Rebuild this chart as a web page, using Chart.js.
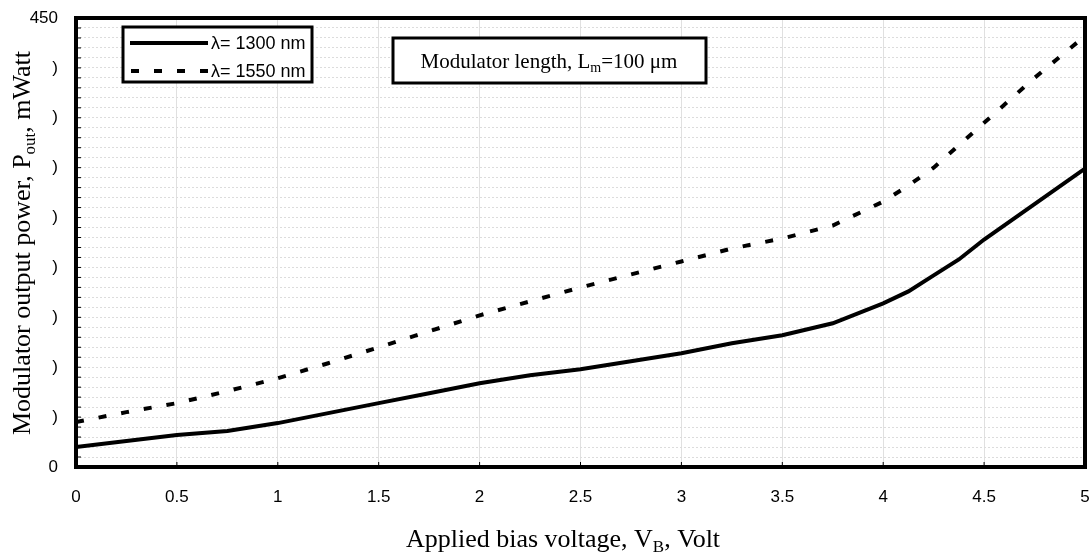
<!DOCTYPE html>
<html>
<head>
<meta charset="utf-8">
<script src="https://cdn.jsdelivr.net/npm/chart.js@4"></script>
<style>
  html, body { margin: 0; padding: 0; background: #fff; }
  #wrap { width: 1092px; height: 557px; position: relative; }
</style>
</head>
<body>
<div id="wrap"><canvas id="c"></canvas></div>
<script>
// Modulator output power vs applied bias voltage, two wavelengths.
const xSolid = [0, 0.25, 0.5, 0.75, 1, 1.25, 1.5, 1.75, 2, 2.25, 2.5, 2.75, 3, 3.25, 3.5, 3.75, 4, 4.125, 4.25, 4.375, 4.5, 5];
const p1300  = [20, 26, 32, 36, 44, 54, 64, 74, 84, 92, 98, 106, 114, 124, 132, 144, 164, 176, 192, 208, 228, 299];
const xDash  = [0, 0.25, 0.5, 0.75, 1, 1.25, 1.5, 1.75, 2, 2.25, 2.5, 2.75, 3, 3.25, 3.5, 3.75, 4, 4.125, 4.25, 4.5, 4.75, 5];
const p1550  = [45, 55, 64, 76, 89, 104, 120, 136, 152, 166, 180, 193, 206, 219, 229, 242, 266, 282, 300, 345, 390, 432];
const seriesNames = ['λ= 1300 nm', 'λ= 1550 nm'];
const xTitle = ['Applied bias voltage, V', 'B', ', Volt'];
const yTitle = ['Modulator output power, P', 'out', ', mWatt'];
const note = ['Modulator length, L', 'm', '=100 μm'];

const SANS = '"Liberation Sans", Arial, sans-serif';
const SERIF = '"Liberation Serif", "Times New Roman", serif';
const DASH = [8, 15];

function pts(xs, ys) { return xs.map((x, i) => ({ x, y: ys[i] })); }

// text with one subscript part, returns width
function subText(ctx, parts, x, y, size, measureOnly) {
  const big = size + 'px ' + SERIF, small = Math.round(size * 0.66) + 'px ' + SERIF;
  ctx.font = big; const w0 = ctx.measureText(parts[0]).width;
  ctx.font = small; const w1 = ctx.measureText(parts[1]).width;
  ctx.font = big; const w2 = ctx.measureText(parts[2]).width;
  if (measureOnly) return w0 + w1 + w2;
  ctx.textBaseline = 'alphabetic'; ctx.textAlign = 'left';
  ctx.font = big; ctx.fillText(parts[0], x, y);
  ctx.font = small; ctx.fillText(parts[1], x + w0, y + size * 0.2);
  ctx.font = big; ctx.fillText(parts[2], x + w0 + w1, y);
  return w0 + w1 + w2;
}

const decor = {
  id: 'decor',
  afterDraw(chart) {
    const { ctx, chartArea: a, scales } = chart;
    ctx.save();
    ctx.fillStyle = '#000'; ctx.strokeStyle = '#000';
    // inward tick marks
    ctx.lineWidth = 1;
    for (let v = 10; v < 450; v += 10) {
      const y = scales.y.getPixelForValue(v);
      ctx.beginPath(); ctx.moveTo(a.left, y); ctx.lineTo(a.left + 5, y); ctx.stroke();
    }
    for (let v = 0.5; v < 5; v += 0.5) {
      const x = scales.x.getPixelForValue(v);
      ctx.beginPath(); ctx.moveTo(x, a.bottom); ctx.lineTo(x, a.bottom - 5); ctx.stroke();
    }
    // plot frame
    ctx.lineWidth = 4;
    ctx.strokeRect(a.left, a.top, a.right - a.left, a.bottom - a.top);

    // legend box
    ctx.lineWidth = 3;
    ctx.fillStyle = '#fff';
    ctx.fillRect(123, 27, 189, 55);
    ctx.strokeRect(123, 27, 189, 55);
    ctx.fillStyle = '#000';
    ctx.lineWidth = 4; ctx.lineCap = 'butt';
    ctx.beginPath(); ctx.moveTo(130, 43); ctx.lineTo(208, 43); ctx.stroke();
    ctx.setLineDash(DASH);
    ctx.beginPath(); ctx.moveTo(131, 71); ctx.lineTo(208, 71); ctx.stroke();
    ctx.setLineDash([]);
    ctx.font = '18px ' + SANS; ctx.textBaseline = 'middle'; ctx.textAlign = 'left';
    ctx.fillText(seriesNames[0], 211, 44);
    ctx.fillText(seriesNames[1], 211, 72);

    // annotation box
    ctx.lineWidth = 3;
    ctx.fillStyle = '#fff';
    ctx.fillRect(393, 38, 313, 45);
    ctx.strokeRect(393, 38, 313, 45);
    ctx.fillStyle = '#000';
    const nw = subText(ctx, note, 0, 0, 21, true);
    subText(ctx, note, 549 - nw / 2, 68, 21);

    // axis titles
    const xw = subText(ctx, xTitle, 0, 0, 26, true);
    subText(ctx, xTitle, 563 - xw / 2, 547, 26);
    ctx.translate(30, 243); ctx.rotate(-Math.PI / 2);
    const yw = subText(ctx, yTitle, 0, 0, 26, true);
    subText(ctx, yTitle, -yw / 2, 0, 26);
    ctx.restore();
  }
};

new Chart(document.getElementById('c'), {
  type: 'line',
  data: {
    datasets: [
      { label: seriesNames[0], data: pts(xSolid, p1300), borderColor: '#000', borderWidth: 4,
        pointRadius: 0, tension: 0, fill: false },
      { label: seriesNames[1], data: pts(xDash, p1550), borderColor: '#000', borderWidth: 4,
        borderDash: DASH, pointRadius: 0, tension: 0, fill: false },
    ],
  },
  options: {
    responsive: true, maintainAspectRatio: false, animation: false,
    layout: { padding: { top: 18, right: 7, left: 0, bottom: 0 } },
    plugins: { legend: { display: false }, tooltip: { enabled: false } },
    scales: {
      x: {
        type: 'linear', min: 0, max: 5,
        afterFit: s => { s.height = 90; s.paddingLeft = 0; s.paddingRight = 0; },
        grid: { color: '#e0e0e0', lineWidth: 1, drawTicks: false },
        border: { display: false },
        ticks: { stepSize: 0.5, padding: 20, color: '#000', font: { family: SANS, size: 17 },
                 maxRotation: 0, callback: v => String(Number(v.toFixed(1))) },
      },
      y: {
        min: 0, max: 450,
        afterFit: s => { s.width = 76; s.paddingTop = 0; s.paddingBottom = 0; },
        grid: { color: '#dcdcdc', lineWidth: 1, drawTicks: false },
        border: { display: false, dash: [2, 2] },
        ticks: { stepSize: 10, autoSkip: false, padding: 18, color: '#000',
                 font: { family: SANS, size: 17 },
                 callback: v => v % 50 ? '' : (v === 0 || v === 450 ? String(v) : ')') },
      },
    },
  },
  plugins: [decor],
});
</script>
</body>
</html>
